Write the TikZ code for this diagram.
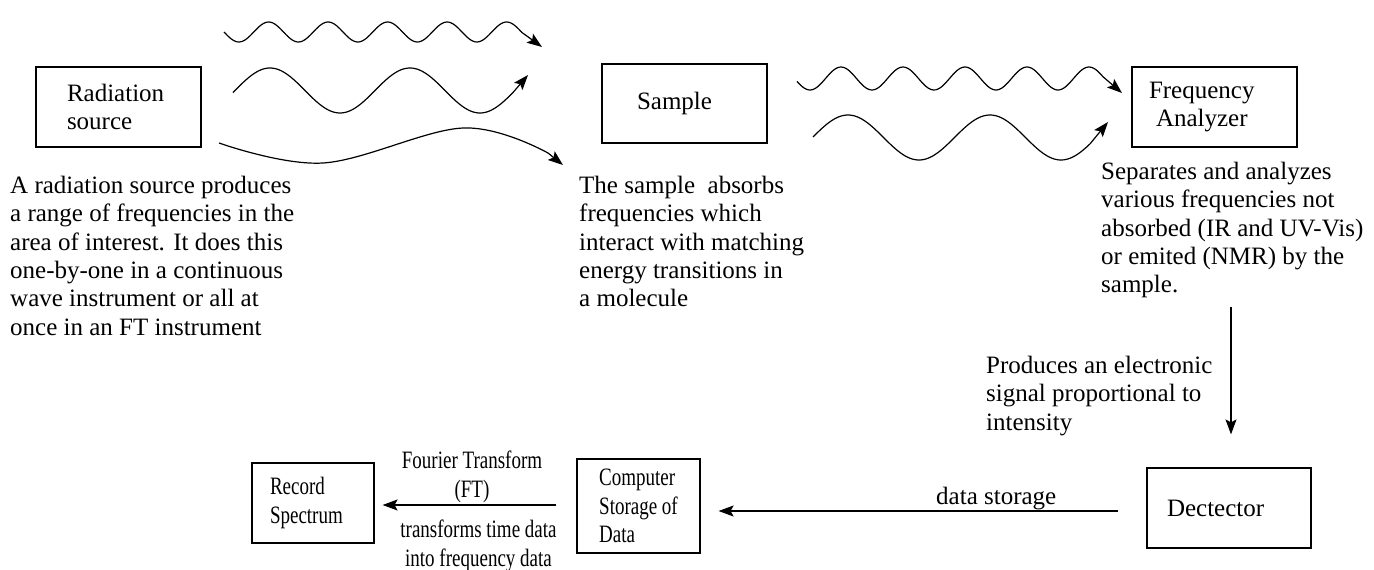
\documentclass[tikz,border=0pt]{standalone}
\usepackage{fontspec}
\setmainfont{Liberation Serif}
\newfontfamily\condfont[FakeStretch=0.76]{Liberation Serif}
\usetikzlibrary{arrows.meta}
\newcommand\normfont{\fontsize{25}{28.3}\selectfont}
\newcommand\condsize{\condfont\fontsize{25}{28.3}\selectfont}
\tikzset{
  box/.style={draw, line width=1.2pt, align=left, inner ysep=0pt, font=\normfont},
  desc/.style={align=left, inner sep=0pt, anchor=north west, font=\normfont},
  arr/.style={line width=1.2pt, line join=round, -{Stealth[length=15pt,width=11pt,inset=3pt]}}
}
\begin{document}
\begin{tikzpicture}[x=1pt,y=-1pt]
\useasboundingbox (0,0) rectangle (1374,570);

% boxes
\node[box, inner xsep=31pt, text width=103pt, minimum height=80pt] (rad) at (118.5,107) {Radiation\\source};
\node[box, inner xsep=35pt, text width=95pt, minimum height=79pt] (sample) at (684.5,103.5) {\raisebox{-3pt}{Sample}};
\node[box, inner xsep=17pt, text width=131pt, minimum height=80pt] (ana) at (1214.5,107) {Frequency\\\hspace*{7pt}Analyzer};
\node[box, inner xsep=20pt, text width=124pt, minimum height=80pt] (det) at (1229,508) {Dectector};
\node[box, inner xsep=0pt, minimum width=123pt, minimum height=94pt, font=\condsize] (comp) at (638.5,506) {Computer\\Storage of\\Data};
\node[box, inner xsep=18pt, text width=86pt, minimum height=80pt, font=\condsize] (rec) at (313,503) {Record\\Spectrum};

% descriptions
\node[desc] (raddesc) at (10,176) {A radiation source produces\\a range of frequencies in the\\area of interest. It does this\\one-by-one in a continuous\\wave instrument or all at\\once in an FT instrument};
\node[desc] (sampdesc) at (579,176) {The sample\ \ absorbs\\frequencies which\\interact with matching\\energy transitions in\\a molecule};
\node[desc] (anadesc) at (1101,162) {Separates and analyzes\\various frequencies not\\absorbed (IR and UV-Vis)\\or emited (NMR) by the\\sample.};
\node[desc] (proddesc) at (986,356) {Produces an electronic\\signal proportional to\\intensity};
\node[desc, anchor=north, align=center, font=\condsize] (ftlabel) at (472,451) {Fourier Transform\\(FT)};
\node[desc, anchor=north, align=center, font=\condsize] (ftdesc) at (478.5,520) {transforms time data\\into frequency data};
\node[anchor=base west, inner sep=0pt, font=\normfont] (dslabel) at (936,504) {data storage};

% connectors
\coordinate (vtop) at (1231,307);
\draw[arr, shorten >=33pt] (vtop) -- (vtop |- det.north);
\draw[arr, shorten <=28pt, shorten >=18pt] ([yshift=-3pt]det.west) -- ([yshift=-3pt]det.west -| comp.east);
\draw[arr, shorten <=20pt, shorten >=8pt] ([yshift=1pt]comp.west) -- ([yshift=1pt]comp.west -| rec.east);

% waves left
\draw[arr, domain=224:522, samples=160, variable=\x] plot (\x,{32+10*sin(6.05042*(\x-224))}) -- (542,47);
\draw[arr, domain=233:513, samples=160, variable=\x] plot (\x,{90.5-22.5*sin(2.571429*(\x-235))}) -- (528,75);
\draw[arr] plot[smooth, tension=0.6] coordinates {(219,143) (323,163) (463,128) (548,153)} -- (563,165);

% waves right
\draw[arr, domain=797:1103, samples=160, variable=\x] plot (\x,{78.5+11.5*sin(5.806452*(\x-794.5))}) -- (1122,93);
\draw[arr, domain=813:1090, samples=160, variable=\x] plot (\x,{137.5-22.5*sin(2.535211*(\x-812.5))}) -- (1108,122);
\end{tikzpicture}
\end{document}
